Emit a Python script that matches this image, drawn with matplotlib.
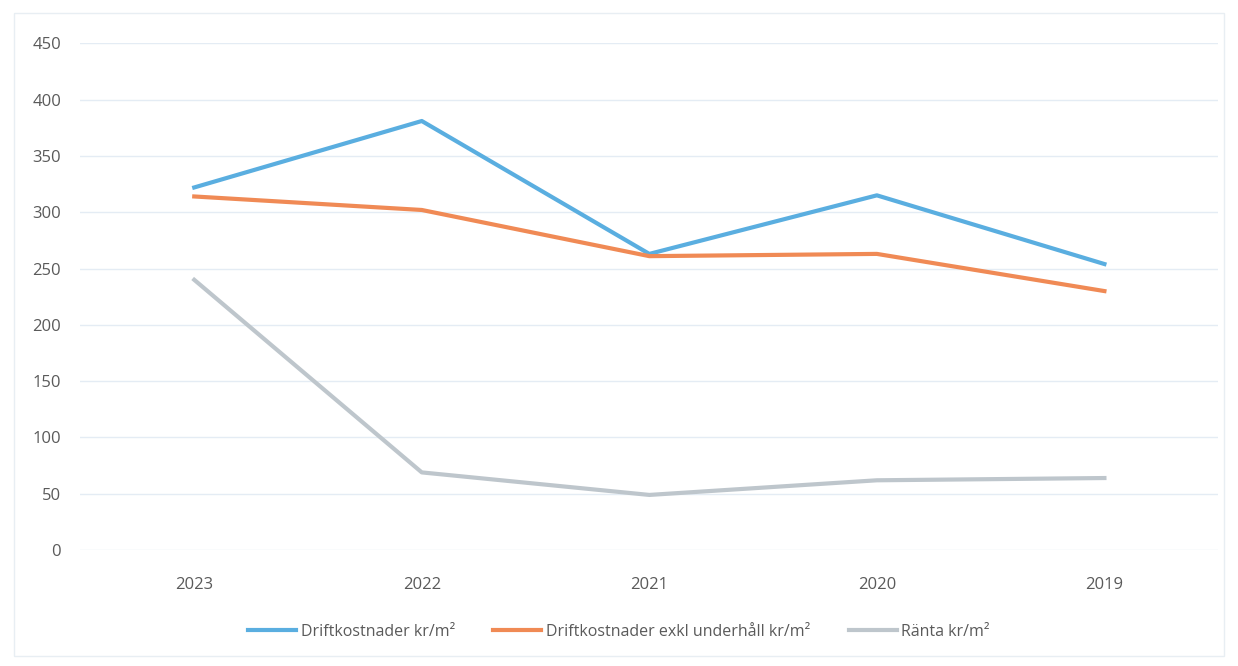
import matplotlib.pyplot as plt
from matplotlib.patches import Rectangle

years = ['2023', '2022', '2021', '2020', '2019']
drift = [322, 381, 263, 315, 254]
drift_exkl = [314, 302, 261, 263, 230]
ranta = [240, 69, 49, 62, 64]

plt.rcParams['font.family'] = ['Open Sans', 'DejaVu Sans']

fig = plt.figure(figsize=(12.38, 6.66), dpi=100)
ax = fig.add_axes([0.065, 0.174, 0.919, 0.761])

x = range(len(years))
ax.plot(x, drift, color='#5AAEE0', linewidth=3, label='Driftkostnader kr/m²')
ax.plot(x, drift_exkl, color='#F08A55', linewidth=3, label='Driftkostnader exkl underhåll kr/m²')
ax.plot(x, ranta, color='#BEC6CC', linewidth=3, label='Ränta kr/m²')

ax.set_xlim(-0.5, 4.5)
ax.set_ylim(0, 450)
ax.set_yticks(range(0, 451, 50))
ax.set_xticks(list(x))
ax.set_xticklabels(years)
ax.grid(axis='y', color='#E4ECF4', linewidth=1)
ax.set_axisbelow(True)
for s in ax.spines.values():
    s.set_visible(False)
ax.tick_params(axis='both', length=0, labelsize=12, labelcolor='#5A5A5A')
ax.tick_params(axis='y', pad=14)
ax.tick_params(axis='x', pad=19)

fig.add_artist(Rectangle((0.011, 0.015), 0.978, 0.965, transform=fig.transFigure,
                         fill=False, edgecolor='#E8EEF3', linewidth=1))

fig.legend(loc='center', bbox_to_anchor=(0.5, 0.051), ncol=3, frameon=False,
           fontsize=11.5, labelcolor='#5A5A5A', handlelength=3.0, columnspacing=2.4,
           handletextpad=0.3)

fig.savefig('out.png', dpi=100)
